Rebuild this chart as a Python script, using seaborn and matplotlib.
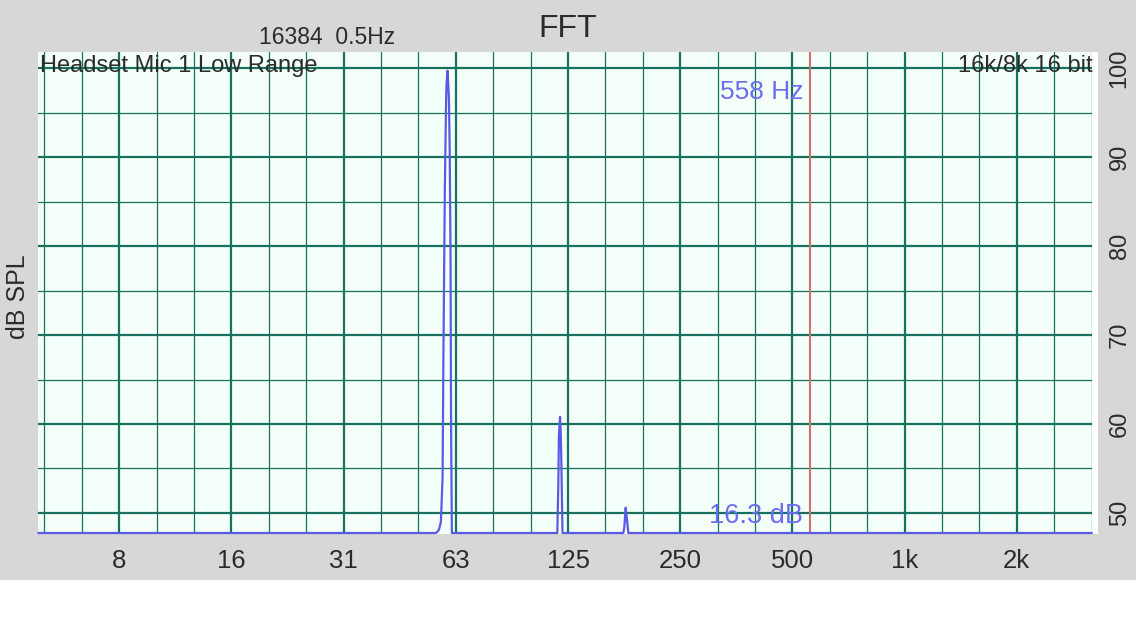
import matplotlib
matplotlib.use("Agg")
import matplotlib.pyplot as plt
import numpy as np
import pandas as pd
import seaborn as sns
from matplotlib.patches import Rectangle
from matplotlib.ticker import NullFormatter

# spectrum (Hz, dB SPL); floor sits on the bottom edge
freq_hz = [4.74, 55.3, 56.3, 57.0, 57.6, 57.9, 58.4, 58.8, 59.0, 59.4, 59.9,
           60.2, 60.5, 60.7, 61.0, 117.0, 117.7, 118.2, 119.0, 119.5, 119.9,
           120.3, 120.8, 175.9, 177.0, 178.5, 179.6, 180.8, 181.4, 3180.0]
level_db = [47.75, 47.75, 48.1, 49.0, 54.0, 68.0, 86.3, 95.3, 98.2, 99.7, 96.6,
            90.4, 78.7, 59.7, 47.75, 47.75, 52.8, 58.8, 60.8, 59.0, 56.3,
            52.6, 47.75, 47.75, 48.4, 50.6, 49.6, 48.4, 47.75, 47.75]

x_ticks = [7.8125, 15.625, 31.25, 62.5, 125, 250, 500, 1000, 2000]
x_tick_labels = ["8", "16", "31", "63", "125", "250", "500", "1k", "2k"]
y_ticks = [50, 60, 70, 80, 90, 100]
y_minor = [55, 65, 75, 85, 95]

cursor_hz = 558
cursor_db_text = "16.3 dB"

GRID = "#18705e"
BLUE_LINE = "#5a5ae6"
BLUE_TEXT = "#6d6df2"
RED = "#cf6f6f"
TEXT = "#2b2b2b"

sns.set_theme(style="white")
plt.rcParams["font.family"] = ["Liberation Sans", "DejaVu Sans"]

fig = plt.figure(figsize=(11.36, 6.4), dpi=100)
fig.patch.set_facecolor("white")
# grey panel behind the chart
fig.patches.append(Rectangle((0, 60 / 640), 1, 580 / 640, transform=fig.transFigure,
                             facecolor="#d7d7d7", edgecolor="none", zorder=-10))
fig.patches.append(Rectangle((1092 / 1136, 106 / 640), 6 / 1136, 482 / 640,
                             transform=fig.transFigure, facecolor="white",
                             edgecolor="none", zorder=-9))

ax = fig.add_axes([38 / 1136, 106 / 640, 1054 / 1136, 482 / 640])
ax.set_facecolor("#f3fff8")

df = pd.DataFrame({"freq": freq_hz, "db": level_db})
sns.lineplot(data=df, x="freq", y="db", ax=ax, color=BLUE_LINE, lw=1.6,
             sort=False, estimator=None, clip_on=False, zorder=5)

ax.set_xscale("log", base=2)
ax.set_xlim(4.73, 3183)
ax.set_ylim(47.64, 101.8)

minor_x = [t * 2 ** (k / 3) for t in [x_ticks[0] / 2] + x_ticks for k in (1, 2)]
ax.set_xticks(x_ticks)
ax.set_xticklabels(x_tick_labels)
ax.set_xticks(minor_x, minor=True)
ax.xaxis.set_minor_formatter(NullFormatter())
ax.set_yticks(y_ticks)
ax.set_yticks(y_minor, minor=True)
ax.yaxis.tick_right()
ax.tick_params(axis="both", which="both", length=0, colors=TEXT)
ax.tick_params(axis="x", labelsize=18.5, pad=11)
ax.tick_params(axis="y", labelsize=17, pad=12)
for lab in ax.get_yticklabels():
    lab.set_rotation(90)
    lab.set_va("center")

ax.grid(which="major", color=GRID, lw=1.6)
ax.grid(which="minor", color=GRID, lw=0.9)
ax.set_axisbelow(True)
for s in ax.spines.values():
    s.set_visible(False)
ax.set_xlabel("")
ax.set_ylabel("")

ax.axvline(cursor_hz, color=RED, lw=1.5, zorder=4)
ax.annotate(f"{cursor_hz} Hz", xy=(cursor_hz, 97.3), xytext=(-5, 0),
            textcoords="offset points", ha="right", va="center",
            color=BLUE_TEXT, fontsize=19, zorder=6)
ax.annotate(cursor_db_text, xy=(cursor_hz, 49.66), xytext=(-5, 0),
            textcoords="offset points", ha="right", va="center",
            color=BLUE_TEXT, fontsize=19.5, zorder=6)

# header texts
fig.text(568 / 1136, 1 - 37 / 640, "FFT", ha="center", va="baseline",
         fontsize=23, color=TEXT)
fig.text(259 / 1136, 1 - 44 / 640, "16384  0.5Hz", ha="left", va="baseline",
         fontsize=16.5, color=TEXT)
fig.text(40 / 1136, 1 - 72 / 640, "Headset Mic 1 Low Range", ha="left",
         va="baseline", fontsize=17, color=TEXT)
fig.text(1093 / 1136, 1 - 72 / 640, "16k/8k 16 bit", ha="right",
         va="baseline", fontsize=17, color=TEXT)
fig.text(18 / 1136, 1 - 297 / 640, "dB SPL", ha="center", va="center",
         rotation=90, fontsize=18, color=TEXT)

plt.savefig("out.png", dpi=100)
plt.close()
